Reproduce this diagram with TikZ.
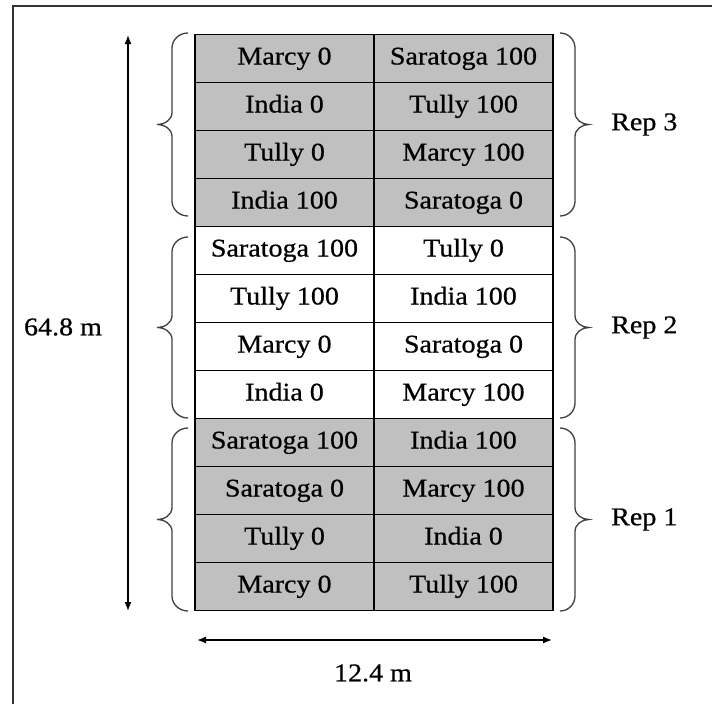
\documentclass[tikz,border=0pt]{standalone}
\usepackage{fontspec}
\setmainfont{Liberation Serif}[FakeStretch=1.1,FakeBold=0.6]
\usetikzlibrary{arrows.meta}
\definecolor{cellgray}{HTML}{C0C0C0}
\definecolor{bracegray}{HTML}{404040}
\definecolor{framegray}{HTML}{333333}
\begin{document}
\begin{tikzpicture}[x=1pt,y=-1pt,
  cell/.style={draw=black,line width=1.3pt,minimum width=179pt,minimum height=48pt,inner sep=0pt,
    font=\fontsize{25.5}{28}\selectfont,text height=17pt,text depth=5pt,anchor=center},
  grayc/.style={cell,fill=cellgray},
  whitec/.style={cell,fill=white},
  lbl/.style={font=\fontsize{25.5}{28}\selectfont,inner sep=0pt},
  bracestyle/.style={draw=bracegray,line width=1.3pt},
  dimarrow/.style={line width=1.3pt,{Latex[length=9pt,width=7pt]}-{Latex[length=9pt,width=7pt]}}]
\useasboundingbox (0,0) rectangle (712,704);
\fill[white] (0,0) rectangle (712,704);
\draw[framegray,line width=2pt] (13,704) -- (13,6) -- (712,6);
% cells
\foreach \r/\a/\b/\s in {1/Marcy 0/Saratoga 100/grayc,2/India 0/Tully 100/grayc,3/Tully 0/Marcy 100/grayc,4/India 100/Saratoga 0/grayc,
  5/Saratoga 100/Tully 0/whitec,6/Tully 100/India 100/whitec,7/Marcy 0/Saratoga 0/whitec,8/India 0/Marcy 100/whitec,
  9/Saratoga 100/India 100/grayc,10/Saratoga 0/Marcy 100/grayc,11/Tully 0/India 0/grayc,12/Marcy 0/Tully 100/grayc}{
  \node[\s] (L\r) at (284.5,{34.5+48*(\r-0.5)}) {\a};
  \node[\s] (R\r) at (463.5,{34.5+48*(\r-0.5)}) {\b};
}
% braces
\foreach \ya/\yb/\n in {33/216/3,237/418/2,428/611/1}{
  \pgfmathsetmacro{\ym}{(\ya+\yb)/2}
  \draw[bracestyle] (188,\ya) to[out=180,in=90] (172,\ya+15) -- (172,\ym-12) to[out=-90,in=0] (157,\ym)
     to[out=0,in=90] (172,\ym+12) -- (172,\yb-15) to[out=-90,in=180] (188,\yb);
  \draw[bracestyle] (560,\ya) to[out=0,in=90] (575,\ya+15) -- (575,\ym-12) to[out=-90,in=180] (589,\ym)
     to[out=180,in=90] (575,\ym+12) -- (575,\yb-15) to[out=-90,in=0] (560,\yb);
  \node[lbl,anchor=west] (rep\n) at (611,\ym) {Rep \n};
}
% dimensions
\coordinate (vt) at (128,35);
\coordinate (vb) at (128,611);
\draw[dimarrow] (vt) -- (vb);
\node[lbl] (hlabel) at (63,327) {64.8 m};
\coordinate (hl) at (197,640);
\coordinate (hr) at (552,640);
\draw[dimarrow] (hl) -- (hr);
\node[lbl] (wlabel) at (373,673) {12.4 m};
\end{tikzpicture}
\end{document}
